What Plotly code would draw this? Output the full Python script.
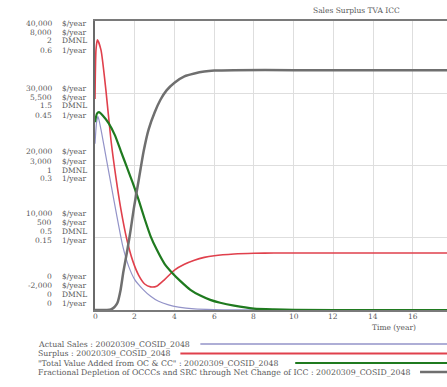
import plotly.graph_objects as go

# ---------------- data ----------------
t_sales = [0, 0.08, 0.15, 0.3, 0.5, 0.8, 1.1, 1.4, 1.7, 2.0, 2.4, 2.8, 3.2, 3.7, 4.2, 5.0, 6.0, 7.0, 8.0, 10, 14, 18]
actual_sales = [23000, 26000, 26800, 25000, 22000, 17500, 13000, 8800, 6000, 4200, 2900, 1900, 1200, 700, 400, 150, 50, 15, 5, 0, 0, 0]

t_surplus = [0, 0.05, 0.12, 0.3, 0.55, 0.8, 1.05, 1.3, 1.6, 1.9, 2.2, 2.5, 2.8, 3.1, 3.5, 4.0, 4.5, 5.0, 5.5, 6.0, 7.0, 8.0, 9.0, 12, 18]
surplus = [5300, 7000, 7350, 7000, 5600, 3900, 2600, 1500, 450, -300, -800, -1100, -1200, -1180, -950, -620, -420, -280, -180, -120, -60, -35, -30, -30, -30]

t_tva = [0, 0.1, 0.2, 0.4, 0.7, 1.0, 1.3, 1.6, 1.9, 2.2, 2.5, 2.8, 3.1, 3.5, 3.9, 4.3, 4.8, 5.3, 5.8, 6.3, 7.0, 8.0, 9.0, 10, 14, 18]
tva = [1.30, 1.36, 1.37, 1.345, 1.29, 1.21, 1.10, 0.99, 0.88, 0.76, 0.63, 0.51, 0.42, 0.32, 0.255, 0.20, 0.14, 0.10, 0.07, 0.05, 0.03, 0.01, 0.004, 0.001, 0, 0]

t_frac = [0, 0.6, 0.8, 1.0, 1.13, 1.28, 1.43, 1.63, 1.8, 1.95, 2.2, 2.45, 2.7, 3.0, 3.3, 3.6, 4.0, 4.5, 5.0, 5.5, 6.0, 7.0, 10, 14, 18]
frac_depl = [0, 0, 0.001, 0.007, 0.015, 0.04, 0.08, 0.125, 0.168, 0.21, 0.27, 0.33, 0.375, 0.41, 0.437, 0.456, 0.472, 0.485, 0.491, 0.495, 0.497, 0.498, 0.498, 0.498, 0.498]

x_ticks = [0, 2, 4, 6, 8, 10, 12, 14, 16]
sales_ticks = ["40,000", "30,000", "20,000", "10,000", "0"]
surplus_ticks = ["8,000", "5,500", "3,000", "500", "-2,000"]
tva_ticks = ["2", "1.5", "1", "0.5", "0"]
frac_ticks = ["0.6", "0.45", "0.3", "0.15", "0"]
units = ["$/year", "$/year", "DMNL", "1/year"]

legend_names = [
    "Actual Sales : 20020309_COSID_2048",
    "Surplus : 20020309_COSID_2048",
    "\"Total Value Added from OC & CC\" : 20020309_COSID_2048",
    "Fractional Depletion of OCCCs and SRC through Net Change of ICC : 20020309_COSID_2048",
]

# ---------------- layout geometry ----------------
W, H = 447, 387
L, R, T, B = 94.5, 447, 21, 310
FONT = "DejaVu Serif"
TXT = "#5a5a5a"

def px(x):
    return (x - L) / (R - L)

def py(y):
    return (B - y) / (B - T)

C_SALES = "#9393c8"
C_SURP = "#e0404c"
C_TVA = "#1f7a1f"
C_FRAC = "#6f6f6f"

fig = go.Figure()
fig.add_trace(go.Scatter(x=t_sales, y=actual_sales, mode="lines", yaxis="y",
                         line=dict(color=C_SALES, width=1.2, shape="spline", smoothing=0.6)))
fig.add_trace(go.Scatter(x=t_surplus, y=surplus, mode="lines", yaxis="y2",
                         line=dict(color=C_SURP, width=1.6, shape="spline", smoothing=0.6)))
fig.add_trace(go.Scatter(x=t_tva, y=tva, mode="lines", yaxis="y3",
                         line=dict(color=C_TVA, width=2.2, shape="spline", smoothing=0.6)))
fig.add_trace(go.Scatter(x=t_frac, y=frac_depl, mode="lines", yaxis="y4",
                         line=dict(color=C_FRAC, width=2.5, shape="spline", smoothing=0.6)))

hidden = dict(overlaying="y", showgrid=False, showticklabels=False, zeroline=False,
              showline=False, ticks="")

fig.update_layout(
    width=W, height=H,
    margin=dict(l=L, r=W - R, t=T, b=H - B, pad=0),
    paper_bgcolor="white", plot_bgcolor="white",
    showlegend=False,
    font=dict(family=FONT, size=8, color=TXT),
    xaxis=dict(range=[0, (R - L) / 19.9], tickvals=x_ticks, showticklabels=False,
               showgrid=True, gridcolor="#dedede", gridwidth=1, zeroline=False,
               showline=True, linecolor="#7a7a7a", linewidth=2, mirror=True, ticks=""),
    yaxis=dict(range=[0, 40000], tickvals=[10000, 20000, 30000], showticklabels=False,
               showgrid=True, gridcolor="#dedede", gridwidth=1, zeroline=False,
               showline=True, linecolor="#6a6a6a", linewidth=2, ticks=""),
    yaxis2=dict(range=[-2000, 8000], **hidden),
    yaxis3=dict(range=[0, 2], **hidden),
    yaxis4=dict(range=[0, 0.6], **hidden),
)

annotations = []
# x tick labels, positioned on the time axis
for v in x_ticks:
    annotations.append(dict(x=v, y=py(316), xref="x", yref="paper", text=str(v),
                            showarrow=False, xanchor="center", yanchor="middle",
                            font=dict(family=FONT, size=7.5, color=TXT)))

# left-hand multi-scale labels
block_tops = [23, 88, 152, 213, 276]
line_gap = 9.0
for i, top in enumerate(block_tops):
    vals = [sales_ticks[i], surplus_ticks[i], tva_ticks[i], frac_ticks[i]]
    for j, (v, u) in enumerate(zip(vals, units)):
        yy = top + j * line_gap
        annotations.append(dict(x=px(53), y=py(yy), xref="paper", yref="paper", text=v,
                                showarrow=False, xanchor="right", yanchor="middle",
                                font=dict(family=FONT, size=7.5, color=TXT)))
        annotations.append(dict(x=px(59), y=py(yy), xref="paper", yref="paper", text=u,
                                showarrow=False, xanchor="left", yanchor="middle",
                                font=dict(family=FONT, size=7.5, color=TXT)))

# title and axis title
annotations.append(dict(x=px(356), y=py(11), xref="paper", yref="paper", text="Sales Surplus TVA ICC",
                        showarrow=False, xanchor="center", yanchor="middle",
                        font=dict(family=FONT, size=7.5, color=TXT)))
annotations.append(dict(x=px(394), y=py(327), xref="paper", yref="paper", text="Time (year)",
                        showarrow=False, xanchor="center", yanchor="middle",
                        font=dict(family=FONT, size=7.5, color=TXT)))

# legend rows
leg_y = [344, 353.5, 363, 372]
leg_x0 = [200, 180, 295, 420]
leg_col = [C_SALES, C_SURP, C_TVA, C_FRAC]
leg_w = [1.3, 2.0, 2.2, 2.5]
shapes = []
for name, yy, x0, c, w in zip(legend_names, leg_y, leg_x0, leg_col, leg_w):
    annotations.append(dict(x=px(35), y=py(yy), xref="paper", yref="paper", text=name,
                            showarrow=False, xanchor="left", yanchor="middle",
                            font=dict(family=FONT, size=7.8, color=TXT)))
    shapes.append(dict(type="line", xref="paper", yref="paper", x0=px(x0), x1=px(447),
                       y0=py(yy), y1=py(yy), line=dict(color=c, width=w)))

fig.update_layout(annotations=annotations, shapes=shapes)
fig.write_html("out.html")
